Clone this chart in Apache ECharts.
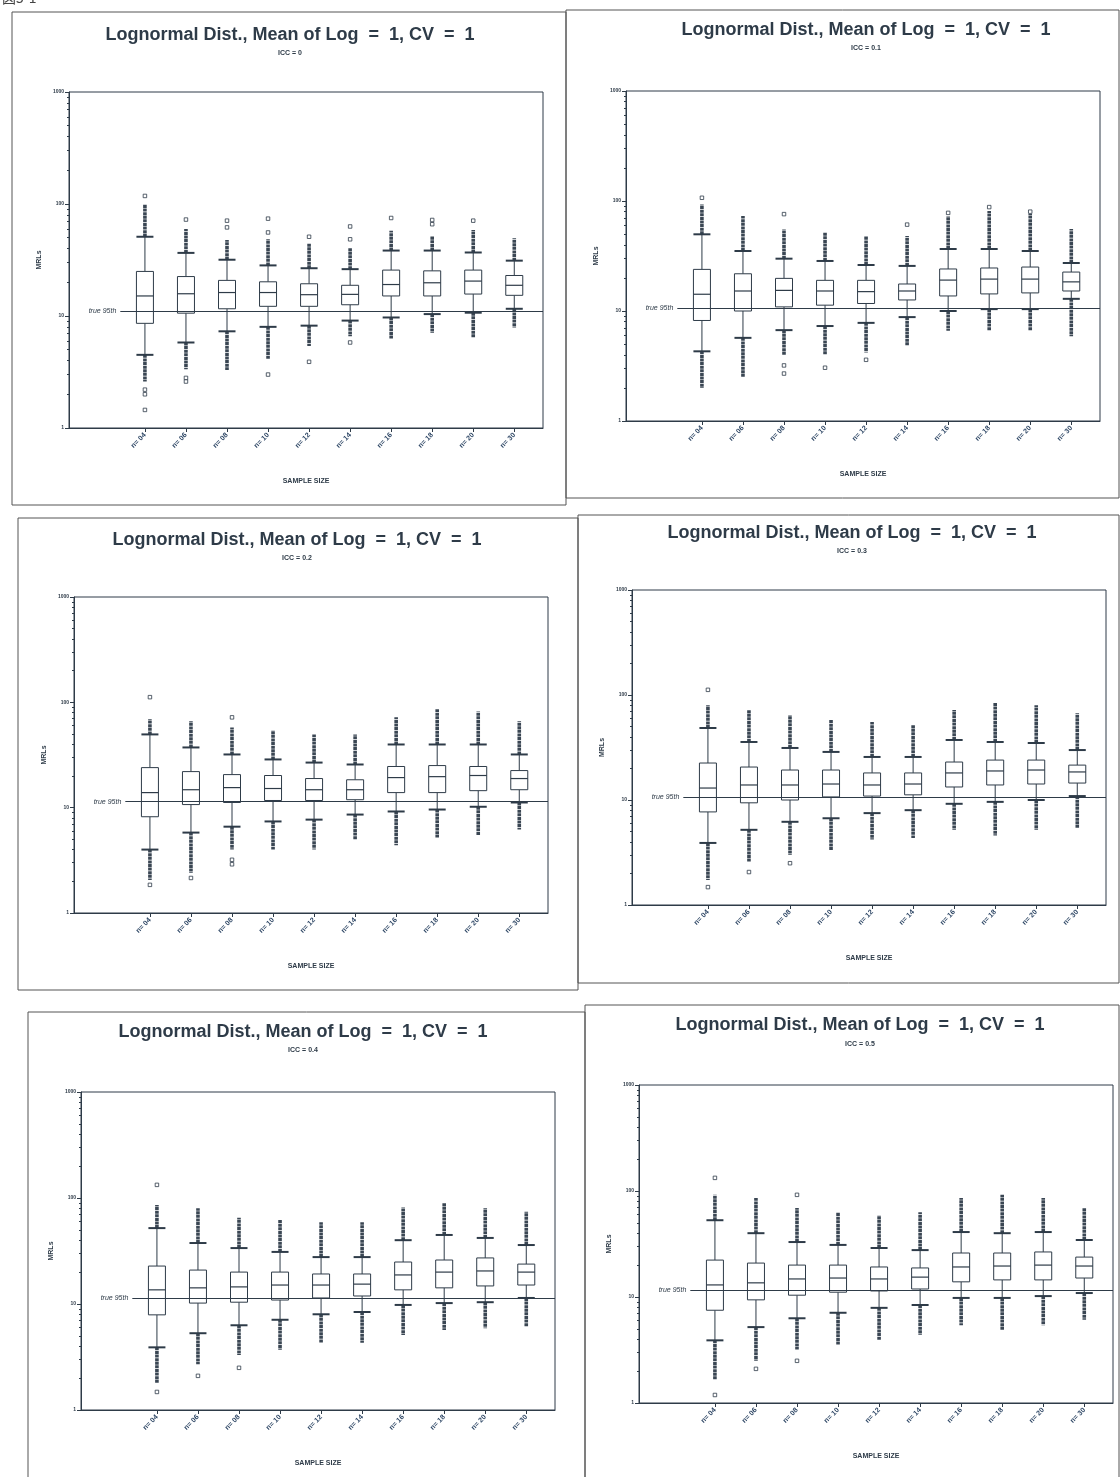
<!DOCTYPE html>
<html><head><meta charset="utf-8">
<script src="https://cdn.jsdelivr.net/npm/echarts@6/dist/echarts.min.js"></script>
<style>html,body{margin:0;padding:0;background:#fff}#c{width:1120px;height:1477px}</style>
</head><body><div id="c"></div>
<script>
// ---------------- DATA ----------------
const sampleSizes = ['n= 04','n= 06','n= 08','n= 10','n= 12','n= 14','n= 16','n= 18','n= 20','n= 30'];
const chartTitle = 'Lognormal Dist., Mean of Log  =  1, CV  =  1';
const iccLabels = ['ICC = 0','ICC = 0.1','ICC = 0.2','ICC = 0.3','ICC = 0.4','ICC = 0.5'];
const true95th = [11.0, 10.7, 11.4, 10.7, 11.4, 11.6];
const yTickLabels = {1:'1', 10:'10', 100:'100', 1000:'1000'};

const lowerOutlierEnd = [
  [2.6, 3.35, 3.3, 4.1, 5.4, 6.6, 6.3, 7.1, 6.4, 7.9],
  [2.0, 2.5, 4.0, 4.0, 4.2, 4.8, 6.6, 6.6, 6.6, 5.9],
  [2.06, 2.4, 4.0, 4.0, 4.0, 5.0, 4.4, 5.2, 5.5, 6.2],
  [1.73, 2.6, 3.0, 3.3, 4.2, 4.35, 5.2, 4.6, 5.2, 5.4],
  [1.8, 2.7, 3.3, 3.7, 4.3, 4.3, 5.1, 5.7, 5.9, 6.1],
  [1.65, 2.5, 3.2, 3.5, 3.9, 4.4, 5.4, 4.9, 5.4, 6.1]
];
const lowerWhisker = [
  [4.5, 5.8, 7.3, 8.0, 8.2, 9.1, 9.7, 10.4, 10.7, 11.6],
  [4.3, 5.7, 6.7, 7.3, 7.8, 8.8, 10.0, 10.4, 10.4, 12.9],
  [4.0, 5.8, 6.6, 7.4, 7.7, 8.6, 9.2, 9.6, 10.2, 11.2],
  [3.9, 5.2, 6.2, 6.7, 7.5, 8.0, 9.2, 9.6, 10.0, 10.9],
  [3.9, 5.3, 6.3, 7.1, 8.0, 8.4, 9.8, 10.2, 10.4, 11.4],
  [3.9, 5.2, 6.3, 7.1, 7.9, 8.4, 9.8, 9.8, 10.2, 10.9]
];
const q1 = [
  [8.6, 10.6, 11.6, 12.2, 12.2, 12.6, 15.1, 15.1, 15.7, 15.3],
  [8.2, 10.0, 10.9, 11.3, 11.7, 12.6, 13.7, 14.3, 14.6, 15.2],
  [8.2, 10.7, 11.2, 11.7, 11.7, 11.9, 13.9, 13.9, 14.5, 14.8],
  [7.7, 9.4, 10.0, 10.7, 10.9, 11.2, 13.3, 13.9, 14.2, 14.5],
  [7.9, 10.2, 10.4, 10.9, 11.4, 11.9, 13.6, 14.2, 14.8, 15.1],
  [7.5, 9.4, 10.4, 11.1, 11.4, 11.9, 13.9, 14.5, 14.5, 15.1]
];
const median = [
  [15.1, 15.8, 16.2, 16.2, 15.5, 15.6, 19.1, 19.8, 20.5, 18.8],
  [14.2, 15.2, 15.4, 15.2, 15.0, 15.2, 19.1, 19.5, 19.5, 18.4],
  [13.9, 14.8, 15.5, 15.2, 14.8, 14.8, 19.3, 19.7, 20.2, 18.9],
  [13.0, 13.9, 13.9, 14.2, 13.9, 14.2, 18.1, 18.9, 19.3, 18.5],
  [13.6, 14.2, 14.5, 15.1, 15.1, 15.4, 18.8, 20.0, 20.5, 20.0],
  [13.0, 13.6, 14.8, 15.1, 14.8, 15.4, 19.2, 19.6, 20.0, 19.6]
];
const q3 = [
  [25.0, 22.5, 20.8, 20.2, 19.4, 18.8, 25.7, 25.3, 25.7, 23.0],
  [23.9, 21.8, 19.8, 19.0, 19.0, 17.6, 24.1, 24.6, 25.1, 22.6],
  [24.0, 22.0, 20.6, 20.2, 18.9, 18.4, 24.6, 25.1, 24.6, 22.5],
  [22.5, 20.6, 19.3, 19.3, 18.1, 18.1, 23.0, 24.0, 24.0, 21.5],
  [22.8, 20.9, 20.0, 20.0, 19.2, 19.2, 24.9, 26.0, 27.2, 23.8],
  [22.3, 20.9, 20.0, 20.0, 19.2, 18.8, 26.0, 26.0, 26.6, 23.8]
];
const upperWhisker = [
  [51, 36.6, 31.8, 28.3, 26.7, 26.2, 38.4, 38.4, 36.9, 31.2],
  [49.8, 35.1, 29.9, 28.5, 26.2, 25.7, 36.6, 36.6, 35.1, 27.3],
  [49.6, 37.3, 32.0, 28.7, 26.8, 25.7, 39.8, 39.8, 39.8, 32.0],
  [48.5, 35.7, 31.3, 28.7, 25.7, 25.7, 37.3, 35.7, 34.9, 29.9],
  [52, 37.6, 33.7, 31.0, 27.7, 27.7, 40, 44.8, 42, 36],
  [53, 40, 33, 31, 29, 27.7, 41, 40, 41, 34.5]
];
const upperOutlierEnd = [
  [100, 59.7, 47.8, 48.4, 44.5, 40.6, 57.6, 51.9, 58.5, 49.4],
  [93, 73, 55, 51.5, 48, 48, 73, 81, 76, 55.6],
  [68.9, 66, 57.8, 54, 49.6, 49.6, 72, 86, 82, 66],
  [80, 72, 64.5, 57.8, 55.3, 51.8, 72, 84, 80, 67],
  [86, 80, 65, 62, 59, 59, 82, 90, 80, 74],
  [92, 86, 69, 63, 59, 63, 86, 92, 86, 69]
];
const isolatedOutliers = [
  [[118,2.2,2.0,1.45],[72.6,2.8,2.6],[61.8,71],[55.7,74,3.0],[51,3.9],[48.4,63,5.8],[75],[66,72],[71],[]],
  [[107],[],[76,3.2,2.7],[3.05],[3.6],[61],[78],[88],[80],[]],
  [[112,1.85],[2.15],[72,3.2,2.9],[],[],[],[],[],[],[]],
  [[112,1.48],[2.06],[2.5],[],[],[],[],[],[],[]],
  [[133,1.48],[2.1],[2.5],[],[],[],[],[],[],[]],
  [[133,1.19],[2.1],[92,2.5],[],[],[],[],[],[],[]]
];

// ---------------- LAYOUT ----------------
const INK = '#2e3b48';
const LABEL_INK = '#2c4564';
const panels = [
  {frame:[12,12,566,505],   grid:{left:69, top:92,  width:474, height:336}, cx:290, ty:35,   sy:53},
  {frame:[566,10,1119,498], grid:{left:626,top:91,  width:474, height:330}, cx:866, ty:30,   sy:48},
  {frame:[18,518,578,990],  grid:{left:74, top:597, width:474, height:316}, cx:297, ty:540,  sy:558},
  {frame:[578,515,1119,983],grid:{left:632,top:590, width:474, height:315}, cx:852, ty:533,  sy:551},
  {frame:[28,1012,585,1480],grid:{left:81, top:1092,width:474, height:318}, cx:303, ty:1032, sy:1050},
  {frame:[585,1005,1119,1480],grid:{left:639,top:1085,width:474,height:318},cx:860, ty:1025, sy:1044}
];
const X_MIN = -1.85, X_MAX = 9.7;
const catIdx = sampleSizes.map((_, j) => j);

function renderBox(params, api) {
  const x = api.value(0);
  const ys = [1,2,3,4,5,6,7].map(k => api.coord([x, api.value(k)])[1]);
  const cx = api.coord([x, 10])[0];
  const [lo, lw, b1, md, b3, uw, uo] = ys;
  const hw = 8.5;
  const thin = {stroke: INK, lineWidth: 1};
  const dense = {stroke:'#3a4653', lineWidth:3.6, lineDash:[3, 0.6]};
  return {type: 'group', children: [
    {type:'line', shape:{x1:cx,y1:lw,x2:cx,y2:lo}, style:dense},
    {type:'line', shape:{x1:cx,y1:uw,x2:cx,y2:uo}, style:dense},
    {type:'line', shape:{x1:cx,y1:lw,x2:cx,y2:b1}, style:thin},
    {type:'line', shape:{x1:cx,y1:b3,x2:cx,y2:uw}, style:thin},
    {type:'line', shape:{x1:cx-hw,y1:lw,x2:cx+hw,y2:lw}, style:{stroke:INK, lineWidth:2}},
    {type:'line', shape:{x1:cx-hw,y1:uw,x2:cx+hw,y2:uw}, style:{stroke:INK, lineWidth:2}},
    {type:'rect', shape:{x:cx-hw, y:b3, width:2*hw, height:b1-b3}, style:{stroke:INK, fill:'#fff', lineWidth:1}},
    {type:'line', shape:{x1:cx-hw,y1:md,x2:cx+hw,y2:md}, style:{stroke:INK, lineWidth:1.2}}
  ]};
}

const grids = [], xAxes = [], yAxes = [], series = [], graphics = [];
panels.forEach((p, i) => {
  grids.push(Object.assign({show:true, borderColor:INK, borderWidth:1}, p.grid));
  xAxes.push({
    gridIndex:i, type:'value', min:X_MIN, max:X_MAX,
    splitLine:{show:false},
    axisLine:{show:true, onZero:false, lineStyle:{color:INK, width:1}},
    axisTick:{show:true, customValues:catIdx, length:4, lineStyle:{color:INK}},
    axisLabel:{customValues:catIdx, rotate:45, fontSize:7, fontWeight:'bold', color:LABEL_INK,
      fontFamily:'Liberation Sans', margin:6,
      formatter: v => (Number.isInteger(v) && v >= 0 && v < sampleSizes.length) ? sampleSizes[v] : ''},
    name:'SAMPLE SIZE', nameLocation:'middle', nameGap:50,
    nameTextStyle:{fontSize:7, fontWeight:'bold', color:INK, fontFamily:'Liberation Sans'}
  });
  yAxes.push({
    gridIndex:i, type:'log', logBase:10, min:1, max:1000,
    splitLine:{show:false},
    axisLine:{show:true, onZero:false, lineStyle:{color:INK}},
    axisTick:{show:true, length:4, lineStyle:{color:INK}},
    minorTick:{show:true, splitNumber:9, length:2, lineStyle:{color:INK}},
    axisLabel:{fontSize:5, color:INK, margin:5, fontFamily:'Liberation Sans', fontWeight:'bold',
      formatter: v => yTickLabels[v] || ''},
    name:'MRLs', nameLocation:'middle', nameGap:26, nameRotate:90,
    nameTextStyle:{fontSize:7, fontWeight:'bold', color:INK, fontFamily:'Liberation Sans'}
  });
  series.push({
    type:'custom', xAxisIndex:i, yAxisIndex:i, renderItem:renderBox,
    encode:{x:0, y:[1,2,3,4,5,6,7]},
    data: catIdx.map(j => [j, lowerOutlierEnd[i][j], lowerWhisker[i][j], q1[i][j], median[i][j],
                             q3[i][j], upperWhisker[i][j], upperOutlierEnd[i][j]]),
    z:3
  });
  const pts = [];
  isolatedOutliers[i].forEach((arr, j) => arr.forEach(v => pts.push([j, v])));
  series.push({
    type:'scatter', xAxisIndex:i, yAxisIndex:i, symbol:'rect', symbolSize:3.5,
    itemStyle:{color:'#fff', borderColor:INK, borderWidth:1},
    data: pts, z:4,
    markLine:{
      silent:true, symbol:['none','none'], animation:false,
      lineStyle:{color:INK, width:1.2, type:'solid'},
      label:{show:true, position:'start', formatter:'true 95th', fontStyle:'italic',
        fontSize:7, color:INK, fontFamily:'Liberation Sans', distance:4},
      data:[[{coord:[-0.6, true95th[i]]}, {coord:[X_MAX, true95th[i]]}]]
    }
  });
  const f = p.frame;
  graphics.push({type:'rect', shape:{x:f[0], y:f[1], width:f[2]-f[0], height:f[3]-f[1]},
    style:{stroke:'#555', fill:null, lineWidth:1}, z:-1});
  graphics.push({type:'text', x:p.cx, y:p.ty, style:{text:chartTitle, fill:INK,
    font:'bold 18px "Liberation Sans", Arial, sans-serif', textAlign:'center', textVerticalAlign:'middle'}});
  graphics.push({type:'text', x:p.cx, y:p.sy, style:{text:iccLabels[i], fill:INK,
    font:'bold 7px "Liberation Sans", Arial, sans-serif', textAlign:'center', textVerticalAlign:'middle'}});
});
graphics.push({type:'text', x:2, y:-9, style:{text:'図5-1', fill:'#444',
  font:'14px "Noto Sans CJK JP", sans-serif', textAlign:'left', textVerticalAlign:'top'}});

const chart = echarts.init(document.getElementById('c'));
chart.setOption({
  animation:false,
  backgroundColor:'#fff',
  grid:grids, xAxis:xAxes, yAxis:yAxes, series:series, graphic:graphics
});
</script></body></html>
